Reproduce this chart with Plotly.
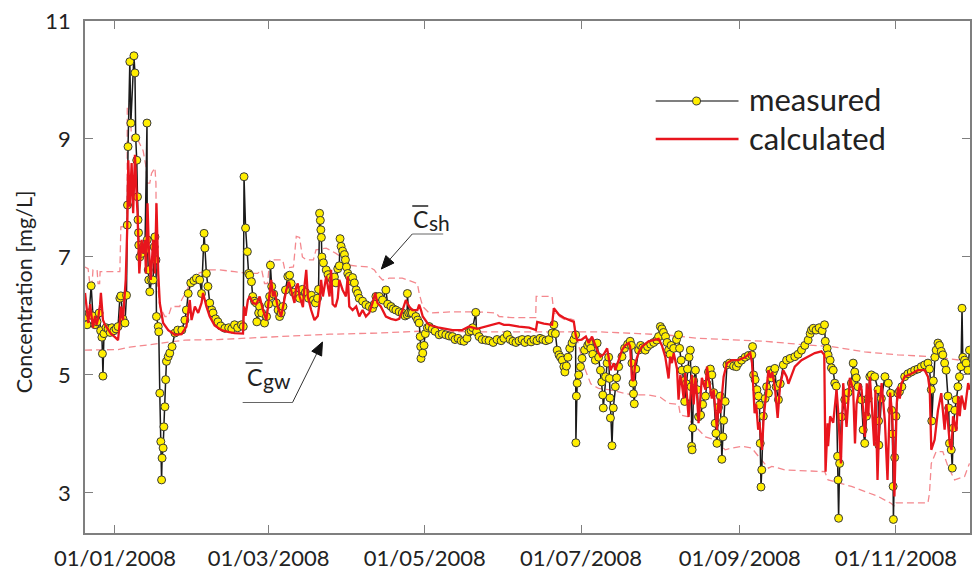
import math
import pandas as pd
import plotly.graph_objects as go

# ---------------- data (day offsets from 2008-01-01, concentration mg/L) ----------------
meas_day = [-11.7,-10.9,-10.1,-9.3,-8.6,-7.8,-7.0,-6.2,-5.6,-5.1,-4.9,-4.7,-4.3,-3.5,-2.7,-1.9,-1.2,-0.4,0.4,1.2,
            1.9,2.3,3.1,3.9,4.5,4.8,4.9,5.1,5.8,6.2,7.4,7.8,8.1,8.5,8.8,9.0,9.2,9.3,9.7,10.4,
            11.0,11.7,12.5,12.6,13.0,13.2,13.6,14.3,14.9,15.3,15.6,16.0,16.2,16.9,17.1,17.5,17.9,18.2,18.4,18.8,
            19.1,19.5,19.8,20.1,20.8,21.4,22.3,23.4,24.5,26.1,27.3,27.9,28.6,29.6,30.8,31.8,33.1,33.8,34.8,35.1,
            35.7,36.3,37.0,37.8,38.3,39.3,40.2,41.3,42.9,44.4,45.6,46.7,47.9,49.4,50.1,50.4,51.0,51.7,52.2,52.6,
            53.3,53.8,54.5,55.2,55.4,56.1,56.5,57.3,58.4,59.2,60.0,60.4,60.7,61.2,62.0,63.0,63.7,64.3,64.9,65.6,
            66.6,67.5,68.2,68.8,69.7,70.9,72.1,73.2,74.4,75.6,76.7,77.5,78.3,79.1,79.5,79.9,80.2,80.4,80.6,80.8,
            81.4,82.5,83.2,84.1,85.0,85.7,86.3,87.0,87.6,87.9,88.3,88.9,89.6,90.0,90.4,90.9,91.5,92.2,92.8,93.5,
            94.2,94.8,95.4,96.7,98.0,99.3,100.6,101.3,101.9,103.2,104.5,105.8,106.5,107.8,108.7,109.7,111.0,112.2,113.3,114.1,
            114.2,114.7,115.5,116.1,117.5,118.2,118.8,119.2,119.4,119.5,120.2,120.7,121.2,122.0,122.7,123.9,125.0,126.6,127.8,129.2,
            130.5,131.8,132.8,134.0,135.2,136.3,137.5,138.3,139.1,139.7,140.9,141.2,142.2,143.4,144.8,146.1,147.7,149.2,150.8,151.9,
            153.2,154.3,155.4,156.6,157.8,159.0,160.1,161.3,162.5,163.6,164.8,166.0,167.1,168.3,169.5,170.7,171.4,172.0,172.7,173.4,
            174.0,174.7,175.3,175.7,176.3,176.9,177.6,178.5,179.2,179.9,180.0,180.2,180.5,181.1,181.8,182.4,183.4,184.6,185.2,185.8,
            186.6,187.6,188.3,188.9,189.6,190.1,190.5,190.7,191.6,192.2,192.8,193.1,193.3,193.5,194.1,194.6,195.4,195.9,196.7,198.0,
            199.0,200.2,201.2,201.7,201.9,202.3,202.5,202.8,203.4,204.5,205.3,206.1,207.1,208.0,209.2,210.4,211.6,212.3,213.0,213.6,
            214.2,215.0,215.6,216.2,216.8,217.2,218.2,219.3,220.1,220.5,221.1,221.4,222.1,222.5,223.1,223.6,224.2,224.7,225.0,225.2,
            225.4,225.6,226.0,226.7,227.4,227.9,228.7,229.5,230.6,231.2,231.8,232.5,233.1,233.8,234.4,234.7,235.1,235.7,236.4,237.0,
            237.4,237.7,238.3,239.0,240.0,241.6,242.7,243.5,244.7,246.1,247.4,248.7,249.0,249.4,250.0,250.7,251.3,251.7,252.0,252.3,
            252.6,253.2,253.9,254.5,255.2,255.8,256.3,257.1,257.7,258.2,259.1,259.8,261.0,262.3,263.7,265.5,266.8,268.1,269.4,270.7,
            271.5,272.0,272.7,273.8,275.0,276.2,277.1,277.4,278.1,278.5,279.3,279.8,280.5,281.1,281.7,282.2,282.4,282.6,283.0,283.7,
            285.0,286.3,287.6,288.3,288.9,289.5,290.2,291.5,292.2,292.8,293.5,294.1,294.8,295.4,296.7,298.0,298.2,298.3,299.3,300.7,
            302.0,302.9,303.3,303.6,303.9,304.0,304.5,305.0,305.8,306.4,307.3,308.4,309.7,311.0,312.3,313.6,314.9,316.2,317.5,318.1,
            318.8,319.0,319.6,320.2,320.7,321.4,322.0,322.7,323.3,324.0,324.6,325.3,325.6,325.9,326.6,327.0,327.4,328.0,328.5,329.2,
            329.8,330.4,330.8,331.1,331.8,332.4,333.1,333.7]
meas_val = [5.98,5.85,6.05,6.51,6.0,5.85,5.9,6.05,5.75,5.64,5.36,4.98,5.7,5.8,5.78,5.72,5.8,5.75,5.78,5.82,
            6.3,6.34,5.95,5.88,6.35,7.54,7.88,8.87,10.31,9.27,10.41,10.12,9.02,8.64,8.02,7.63,7.41,7.2,7.0,7.06,
            7.17,7.12,9.27,7.29,6.78,6.61,6.41,6.61,6.61,7.17,7.34,6.95,5.99,5.82,5.73,4.69,3.87,3.22,3.59,3.76,
            4.12,4.46,4.92,5.23,5.31,5.37,5.48,5.71,5.76,5.76,5.93,6.1,6.38,6.56,6.6,6.64,6.61,6.38,7.4,7.15,
            6.72,6.5,6.22,6.1,6.05,5.95,5.9,5.83,5.79,5.8,5.78,5.85,5.8,5.85,5.82,8.36,7.49,7.09,6.72,6.69,
            6.58,6.33,6.25,6.22,5.9,6.05,6.16,6.05,5.88,5.99,6.2,6.33,6.86,6.5,6.37,6.22,6.1,5.99,6.05,6.16,
            6.44,6.67,6.69,6.55,6.4,6.35,6.3,6.45,6.4,6.3,6.35,6.27,6.22,6.3,6.45,7.74,7.62,7.46,7.33,7.0,
            6.9,6.78,6.7,6.65,6.61,6.66,6.56,6.8,6.85,7.31,7.18,7.1,7.04,6.95,6.83,6.72,6.67,6.59,6.65,6.56,
            6.44,6.38,6.3,6.25,6.19,6.16,6.13,6.2,6.33,6.33,6.27,6.44,6.2,6.16,6.12,6.1,6.07,6.05,6.0,6.02,
            6.38,6.05,6.05,6.05,5.99,5.93,5.88,5.65,5.48,5.28,5.37,5.5,5.7,5.8,5.82,5.78,5.74,5.68,5.7,5.68,
            5.66,5.65,5.6,5.62,5.58,5.57,5.62,5.73,5.75,5.8,6.06,5.73,5.65,5.6,5.59,5.58,5.55,5.6,5.58,5.62,
            5.68,5.6,5.57,5.55,5.58,5.6,5.55,5.6,5.56,5.6,5.58,5.62,5.6,5.58,5.6,5.71,5.85,5.7,5.42,5.34,
            5.3,5.25,5.14,5.05,5.15,5.3,5.45,5.54,5.6,5.68,3.85,4.64,4.86,5.0,5.14,5.28,5.42,5.5,5.54,5.45,
            5.35,5.25,5.54,5.3,5.08,4.88,4.66,4.44,4.97,5.2,5.3,4.94,4.61,4.27,3.8,4.44,4.8,4.95,5.14,5.31,
            5.45,5.52,5.57,5.5,5.2,4.86,4.68,4.51,5.1,5.42,5.5,5.46,5.42,5.48,5.52,5.55,5.59,5.65,5.82,5.78,
            5.72,5.65,5.55,5.42,5.35,5.5,5.45,5.6,5.68,5.45,5.25,5.08,4.9,4.55,4.85,5.1,5.3,5.42,4.8,3.79,
            3.73,4.1,4.9,5.08,4.75,4.29,4.32,4.5,4.64,4.85,5.05,5.1,5.0,4.7,4.18,4.01,3.84,4.45,4.64,3.57,
            3.95,4.23,4.55,5.17,5.2,5.15,5.14,5.2,5.25,5.3,5.33,5.34,5.48,5.0,4.92,4.75,4.64,4.49,3.84,3.1,
            3.39,4.3,4.6,4.8,4.69,5.08,4.95,5.05,5.11,4.8,4.58,4.85,5.17,5.25,5.28,5.31,5.35,5.42,5.5,5.59,
            5.7,5.76,5.79,5.76,5.8,5.75,5.85,5.57,5.45,5.34,5.25,5.12,5.08,4.86,4.81,3.62,3.22,2.57,3.5,4.29,
            4.58,4.7,4.86,5.2,5.05,4.95,4.8,4.58,4.07,3.84,4.3,4.6,4.97,5.0,4.97,4.75,4.22,3.81,4.6,4.97,
            4.86,4.69,4.4,4.0,3.11,2.55,3.6,4.3,4.69,4.72,4.8,4.97,5.02,5.05,5.08,5.1,5.14,5.17,5.2,5.1,
            4.75,4.22,4.9,5.3,5.42,5.54,5.5,5.4,5.34,5.2,5.08,4.64,4.44,3.84,3.73,3.42,4.1,4.4,4.58,4.8,
            4.97,5.14,6.13,5.3,5.25,5.2,5.08,5.42]

calc_day = [-11.7,-11.1,-10.4,-9.7,-9.2,-8.6,-7.8,-7.2,-6.6,-5.8,-5.5,-4.7,-3.9,-2.7,-1.6,0.0,1.2,1.9,2.3,3.1,
            4.2,4.8,5.2,5.8,6.5,7.1,7.8,8.5,8.8,9.5,10.4,11.0,11.7,12.1,12.7,13.2,14.0,14.9,15.6,16.2,
            16.9,17.5,18.8,20.8,23.4,26.0,27.9,29.2,29.9,31.2,32.5,33.8,34.4,35.7,37.0,38.9,41.6,44.1,46.7,50.0,
            50.4,51.0,51.9,52.6,53.9,55.2,56.5,57.8,59.1,60.4,61.0,61.7,62.3,63.6,64.9,65.6,66.9,67.9,68.8,70.1,
            70.8,71.4,72.1,73.4,74.0,74.7,75.3,76.6,77.9,79.2,79.9,80.5,81.2,82.5,83.8,84.4,85.0,86.1,87.0,87.6,
            88.9,90.2,90.9,91.5,92.8,94.2,95.4,96.7,98.0,99.3,100.6,101.6,102.5,103.8,105.8,107.8,109.7,111.0,112.3,113.6,
            114.9,116.1,118.1,118.8,119.5,120.2,122.0,122.7,126.6,131.8,135.6,138.3,141.4,146.1,150.0,151.9,153.9,157.8,161.7,164.4,
            164.9,167.5,170.7,171.4,172.6,173.4,175.3,177.2,179.2,179.9,180.5,182.3,183.9,185.0,186.3,188.3,189.6,190.9,192.2,192.8,
            193.5,194.8,195.4,196.7,198.0,199.3,200.6,201.2,201.9,202.5,203.2,204.5,205.8,208.4,211.0,212.3,213.6,214.9,216.2,216.8,
            217.5,218.2,219.5,220.1,220.8,221.4,222.1,222.7,224.0,224.7,225.3,226.0,226.7,227.4,227.9,229.2,230.6,231.2,231.8,233.1,
            233.8,235.1,235.7,236.4,237.7,239.0,240.9,243.5,246.1,248.1,248.8,249.8,250.4,251.2,251.7,252.7,253.3,254.6,255.2,256.0,
            256.7,257.8,258.8,259.7,261.0,262.3,263.0,264.3,265.5,268.1,270.7,273.3,275.9,277.0,277.5,278.3,278.5,279.3,280.5,281.8,
            282.4,283.1,283.5,284.4,285.7,287.0,288.3,289.0,289.6,291.0,291.6,292.9,293.6,294.2,294.8,295.7,296.5,297.0,297.8,298.7,
            299.4,300.7,301.7,302.7,303.6,304.4,305.3,305.8,306.5,307.1,308.4,311.0,313.6,316.2,317.5,318.2,318.8,320.1,321.4,322.7,
            323.4,324.0,324.7,326.0,326.7,327.3,328.6,329.3,329.9,330.6,331.9,333.2,333.9]
calc_val = [6.39,6.1,5.88,6.2,6.0,5.8,6.0,5.85,5.95,6.2,6.39,5.93,5.85,5.76,5.7,5.64,5.59,5.9,6.16,5.93,
            6.61,7.51,8.64,7.85,8.59,7.74,8.73,7.99,7.74,6.72,7.29,7.06,7.29,6.72,7.91,7.17,6.61,7.29,6.72,7.91,
            6.72,6.22,5.88,5.76,5.68,5.69,5.82,6.27,5.93,6.16,6.05,6.22,6.39,6.16,5.99,5.84,5.76,5.73,5.71,5.7,
            6.16,6.0,6.27,6.33,6.22,6.2,6.33,6.1,5.93,6.39,6.61,6.33,6.42,6.15,5.99,6.15,6.44,6.58,6.44,6.22,
            6.5,6.55,6.33,6.15,6.5,6.78,6.33,6.1,5.93,6.0,6.22,6.61,6.33,6.67,6.33,6.78,6.2,6.15,6.3,6.61,
            6.44,6.33,6.67,6.16,6.1,6.16,5.99,6.1,5.99,6.05,6.22,6.39,6.22,6.16,5.99,5.95,5.93,5.95,6.1,6.27,
            6.16,6.1,6.1,6.19,6.1,5.99,5.88,5.85,5.8,5.76,5.76,5.82,5.78,5.84,5.88,5.85,5.85,5.82,5.8,5.76,
            5.9,5.87,5.85,6.13,6.05,6.02,5.97,5.93,5.9,5.68,5.59,5.6,5.65,5.54,5.65,5.42,5.31,5.35,5.45,5.3,
            5.08,5.2,5.08,5.25,5.42,5.5,5.54,5.48,4.92,4.9,5.2,5.38,5.48,5.57,5.59,5.61,5.5,5.31,4.94,5.31,
            5.2,5.37,5.1,4.58,5.0,4.85,4.6,5.03,4.29,4.6,5.0,4.5,4.95,4.6,4.18,4.95,4.75,5.14,4.95,4.6,
            4.75,4.07,4.6,4.35,4.97,5.2,5.25,5.25,5.3,5.37,5.2,4.35,4.5,4.07,4.2,3.73,4.25,4.75,5.08,4.95,
            5.05,4.75,4.27,4.8,5.08,4.97,4.85,5.0,5.14,5.25,5.31,5.37,5.4,5.34,3.36,4.18,3.79,4.3,4.19,4.75,
            4.4,3.8,3.5,4.86,4.12,4.95,4.75,3.84,4.5,4.85,4.75,3.95,4.86,4.3,4.97,4.4,3.8,4.75,3.22,4.5,
            4.86,4.2,3.22,4.7,4.3,2.94,4.5,4.8,4.6,4.85,4.97,5.02,5.08,5.08,4.97,4.75,3.73,3.9,4.4,4.69,
            4.4,4.07,4.5,3.84,3.73,4.3,4.05,4.64,4.3,4.65,4.41,4.86,4.75]

csh_day = [-11.7,-10.5,-9.7,-9.0,-8.6,-7.0,-6.6,-6.0,-5.8,1.9,2.3,4.7,4.8,5.8,6.5,7.8,9.0,11.0,12.1,12.6,
           13.6,14.3,15.6,16.0,16.2,17.5,19.5,20.8,22.1,25.3,26.0,27.7,29.9,32.5,36.3,40.9,46.7,52.6,55.7,57.3,
           58.4,59.6,60.4,65.5,66.2,69.7,70.8,72.1,73.2,74.7,77.5,78.5,82.5,86.3,90.0,91.5,95.4,99.3,101.3,102.5,
           104.5,107.1,112.2,116.1,118.1,118.8,120.2,122.7,131.8,140.9,148.8,150.0,155.2,164.3,164.5,170.7,171.4,175.9,177.9,179.2,
           179.9,181.1,183.1,185.8,188.9,192.8,201.9,208.4,213.0,216.2,220.1,220.8,224.0,225.2,227.9,230.6,234.4,238.3,240.9,244.8,
           248.7,251.3,255.2,256.5,261.7,277.2,278.5,287.6,291.5,298.0,303.2,304.5,305.0,317.5,318.1,318.8,320.7,323.3,325.3,327.9,
           331.8,333.7]
csh_val = [6.83,6.8,6.5,6.5,6.78,6.78,6.55,6.55,6.75,6.75,7.51,7.52,9.55,9.6,8.98,9.0,8.98,8.8,8.53,8.25,
           8.25,8.42,8.51,8.25,6.72,6.16,5.99,5.99,6.16,6.16,6.27,6.4,6.61,6.72,6.78,6.78,6.75,6.72,6.72,6.78,
           6.55,6.55,6.95,6.95,6.81,6.83,7.35,7.33,7.0,6.95,6.95,7.12,7.15,7.06,6.95,6.86,6.84,6.83,6.78,6.7,
           6.61,6.64,6.64,6.58,6.55,6.38,6.16,6.05,6.07,6.07,6.05,5.99,5.97,5.97,6.33,6.33,6.05,5.93,5.95,5.93,
           5.71,5.5,5.15,4.85,4.77,4.75,4.66,4.66,4.62,4.52,4.5,4.32,4.29,4.17,4.07,3.95,3.9,3.73,3.76,3.79,
           3.76,3.62,3.42,3.45,3.39,3.36,3.22,3.11,3.05,2.94,2.82,2.77,2.83,2.83,3.0,3.5,3.7,3.7,3.45,3.22,
           3.28,3.5]

cgw_day = [-11.7,1.2,5.8,14.3,27.3,40.1,53.4,72.1,83.8,103.2,118.8,142.2,165.6,188.9,204.5,214.9,227.9,240.9,253.8,266.8,
           279.8,292.8,305.8,318.8,333.9]
cgw_val = [5.42,5.43,5.47,5.52,5.59,5.6,5.63,5.67,5.69,5.71,5.74,5.73,5.73,5.73,5.7,5.68,5.62,5.59,5.57,5.52,
           5.48,5.39,5.34,5.31,5.23]

x_tick_dates = ["2008-01-01", "2008-03-01", "2008-05-01", "2008-07-01", "2008-09-01", "2008-11-01"]
y_ticks = [3, 5, 7, 9, 11]
legend_labels = ["measured", "calculated"]
y_title = "Concentration [mg/L]"

base = pd.Timestamp("2008-01-01")
def to_dates(days):
    return base + pd.to_timedelta(pd.Series(days, dtype=float), unit="D")

FONT = "Lato"
RED = "#E8151D"
PINK = "#F4888E"
TXT = "#222"

fig = go.Figure()
fig.add_trace(go.Scatter(x=to_dates(cgw_day), y=cgw_val, mode="lines",
                         line=dict(color=PINK, width=1.3, dash="7px,4px"), showlegend=False))
fig.add_trace(go.Scatter(x=to_dates(csh_day), y=csh_val, mode="lines",
                         line=dict(color=PINK, width=1.3, dash="7px,4px"), showlegend=False))
fig.add_trace(go.Scatter(x=to_dates(meas_day), y=meas_val, mode="lines+markers",
                         line=dict(color="#1a1a1a", width=1.5),
                         marker=dict(size=8, color="#FFEE00", line=dict(color="#3a3a3a", width=1)),
                         showlegend=False))
fig.add_trace(go.Scatter(x=to_dates(calc_day), y=calc_val, mode="lines",
                         line=dict(color=RED, width=2.3), showlegend=False))

AX = "#7f7f7f"
fig.update_xaxes(type="date", range=["2007-12-20 07:00", "2008-11-29 22:00"],
                 tickvals=x_tick_dates, tickformat="%d/%m/%Y",
                 ticks="inside", ticklen=8, tickcolor=AX, tickwidth=1,
                 showline=True, linecolor=AX, linewidth=1.5, mirror="ticks",
                 showgrid=False, zeroline=False, ticklabelstandoff=5,
                 tickfont=dict(family=FONT, size=22, color=TXT))
fig.update_yaxes(range=[2.32, 11], tickvals=y_ticks,
                 ticks="inside", ticklen=8, tickcolor=AX, tickwidth=1,
                 showline=True, linecolor=AX, linewidth=1.5, mirror="ticks",
                 showgrid=False, zeroline=False, ticklabelstandoff=8,
                 tickfont=dict(family=FONT, size=22, color=TXT))

L, R, T, B = 85, 1, 21, 43
W, H = 973, 576
PW, PH = W - L - R, H - T - B
def px(x):
    return (x - L) / PW
def py(y):
    return (H - B - y) / PH

shapes = []
annotations = []

def pline(x0, y0, x1, y1, color, width):
    shapes.append(dict(type="line", xref="paper", yref="paper", x0=px(x0), x1=px(x1),
                       y0=py(y0), y1=py(y1), line=dict(color=color, width=width)))

def ptext(text, x, y, size, anchor="left", angle=0):
    annotations.append(dict(text=text, xref="paper", yref="paper", x=px(x), y=py(y),
                            xanchor=anchor, yanchor="middle", showarrow=False, textangle=angle,
                            font=dict(family=FONT, size=size, color=TXT)))

def arrow(sx, sy, tx, ty, head=13, half=5.5):
    # leader line + filled triangular head (screen pixels -> paper)
    dx, dy = tx - sx, ty - sy
    n = math.hypot(dx, dy)
    ux, uy = dx / n, dy / n
    bx, by = tx - head * ux, ty - head * uy
    pline(sx, sy, bx, by, "#333", 1)
    p1 = (bx + half * uy, by - half * ux)
    p2 = (bx - half * uy, by + half * ux)
    path = "M {} {} L {} {} L {} {} Z".format(px(tx), py(ty), px(p1[0]), py(p1[1]), px(p2[0]), py(p2[1]))
    shapes.append(dict(type="path", xref="paper", yref="paper", path=path,
                       fillcolor="#111", line=dict(color="#111", width=1)))

# y axis title (placed like the reference, slightly below the axis centre)
ptext(y_title, 24, 292, 21.5, anchor="center", angle=-90)

# legend (drawn manually)
pline(657, 101, 740, 101, "#555", 1.5)
shapes.append(dict(type="circle", xref="paper", yref="paper", x0=px(694), x1=px(702), y0=py(105), y1=py(97),
                   fillcolor="#FFEE00", line=dict(color="#3a3a3a", width=1)))
pline(657, 139, 740, 139, RED, 2.3)
ptext(legend_labels[0], 748, 99, 31)
ptext(legend_labels[1], 748, 138, 31)

# C_sh label with overline, underline leader and arrow
ptext("C", 412, 219, 23)
ptext("sh", 428, 222, 21)
pline(413, 206, 429, 206, "#222", 1.5)
pline(413, 234, 444, 234, "#666", 1)
arrow(413, 234, 382, 269)

# C_gw label
ptext("C", 245, 377, 23)
ptext("gw", 261, 380, 21)
pline(246, 363, 263, 363, "#222", 1.5)
pline(243, 402.5, 293, 402.5, "#666", 1)
arrow(293, 402.5, 323, 342)

fig.update_layout(width=W, height=H, margin=dict(l=L, r=R, t=T, b=B),
                  paper_bgcolor="white", plot_bgcolor="white",
                  font=dict(family=FONT, color=TXT),
                  shapes=shapes, annotations=annotations, showlegend=False)

fig.write_html("out.html")
